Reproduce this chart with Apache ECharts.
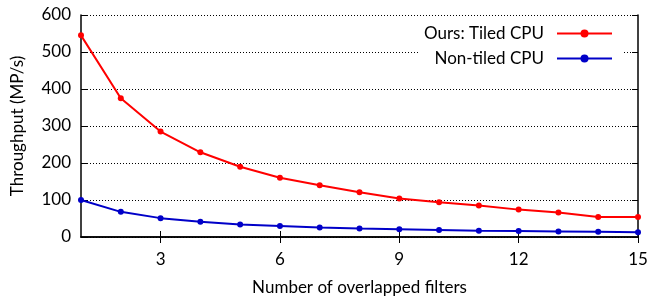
<!DOCTYPE html>
<html>
<head>
<meta charset="utf-8">
<script src="https://cdn.jsdelivr.net/npm/echarts@6/dist/echarts.min.js"></script>
<style>
  html, body { margin: 0; padding: 0; background: #fff; }
  #chart { width: 665px; height: 299px; }
</style>
</head>
<body>
<div id="chart"></div>
<script>
// data
const filters = [1, 2, 3, 4, 5, 6, 7, 8, 9, 10, 11, 12, 13, 14, 15]
const tiledCpu = [545, 375, 285, 229, 190, 160, 140, 121, 104, 94, 85, 74, 66, 54, 54]
const nonTiledCpu = [100, 68, 51, 41, 34, 30, 26, 23, 21, 19, 17, 16, 15, 14, 13]
const xTicks = [3, 6, 9, 12, 15]

const font = 'Lato'
const chart = echarts.init(document.getElementById('chart'))

const pairs = (ys) => filters.map((x, i) => [x, ys[i]])

chart.setOption({
  animation: false,
  textStyle: { fontFamily: font, color: '#000' },
  grid: { left: 81, right: 27, top: 15, bottom: 62, outerBoundsMode: 'none' },
  legend: {
    right: 42,
    top: 22,
    orient: 'vertical',
    align: 'right',
    itemWidth: 55,
    itemHeight: 10,
    itemGap: 8,
    backgroundColor: '#fff',
    padding: [3, 10, 3, 5],
    textStyle: { fontFamily: font, fontSize: 17, color: '#000', padding: [0, 8, 0, 0] },
    data: ['Ours: Tiled CPU', 'Non-tiled CPU']
  },
  xAxis: [
    {
      type: 'value',
      min: 1,
      max: 15,
      name: 'Number of overlapped filters',
      nameLocation: 'middle',
      nameGap: 42,
      nameTextStyle: { fontSize: 17, color: '#000' },
      axisLine: { lineStyle: { color: '#000', width: 1.5 } },
      axisTick: { inside: true, length: 6, customValues: xTicks, lineStyle: { color: '#000' } },
      axisLabel: { customValues: xTicks, fontSize: 17, color: '#000', margin: 14 },
      splitLine: { show: false }
    },
    {
      type: 'value',
      position: 'top',
      min: 1,
      max: 15,
      axisLine: { lineStyle: { color: '#000', width: 1.5 } },
      axisTick: { inside: true, length: 6, customValues: xTicks, lineStyle: { color: '#000' } },
      axisLabel: { show: false },
      splitLine: { show: false }
    }
  ],
  yAxis: [
    {
      type: 'value',
      min: 0,
      max: 600,
      interval: 100,
      name: 'Throughput (MP/s)',
      nameLocation: 'middle',
      nameGap: 55,
      nameTextStyle: { fontSize: 17, color: '#000' },
      axisLine: { show: true, lineStyle: { color: '#000', width: 1.5 } },
      axisTick: { show: true, inside: true, length: 6, lineStyle: { color: '#000' } },
      axisLabel: { fontSize: 17, color: '#000', margin: 10 },
      splitLine: { show: true, lineStyle: { color: '#000', type: [1, 2], width: 1 } }
    },
    {
      type: 'value',
      position: 'right',
      min: 0,
      max: 600,
      interval: 100,
      axisLine: { show: true, lineStyle: { color: '#000', width: 1.5 } },
      axisTick: { show: true, inside: true, length: 6, lineStyle: { color: '#000' } },
      axisLabel: { show: false },
      splitLine: { show: false }
    }
  ],
  series: [
    {
      name: 'Ours: Tiled CPU',
      type: 'line',
      data: pairs(tiledCpu),
      symbol: 'circle',
      symbolSize: 6,
      itemStyle: { color: '#f00' },
      lineStyle: { color: '#f00', width: 2 },
      z: 3
    },
    {
      name: 'Non-tiled CPU',
      type: 'line',
      data: pairs(nonTiledCpu),
      symbol: 'circle',
      symbolSize: 6,
      itemStyle: { color: '#0000c8' },
      lineStyle: { color: '#0000c8', width: 2 },
      z: 3
    }
  ]
})
</script>
</body>
</html>
